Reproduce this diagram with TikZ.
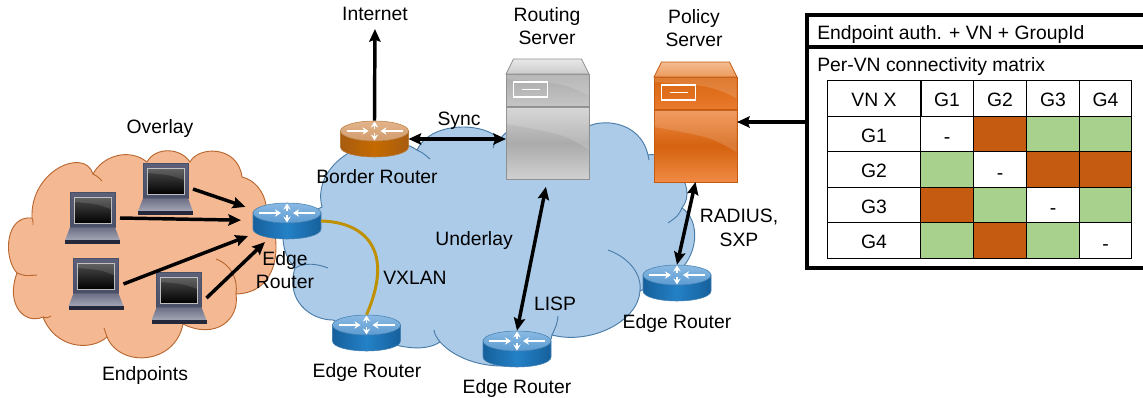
\documentclass[tikz,border=0pt]{standalone}
\usepackage{fontspec}
\setmainfont{Liberation Sans}
\usetikzlibrary{arrows.meta}
\definecolor{overlayfill}{HTML}{F4B993}
\definecolor{overlayline}{HTML}{B9672F}
\definecolor{underlayfill}{HTML}{ACCBE8}
\definecolor{underlayline}{HTML}{4A7CA8}
\definecolor{tunnel}{HTML}{BF9000}
\definecolor{denied}{HTML}{C55A11}
\definecolor{allowed}{HTML}{A9D18E}
% routers
\definecolor{rbA}{HTML}{16609C}
\definecolor{rbB}{HTML}{2481C6}
\definecolor{rbC}{HTML}{8ABAE3}
\definecolor{rbD}{HTML}{5C9BD2}
\definecolor{roA}{HTML}{A85C10}
\definecolor{roB}{HTML}{C46A00}
\definecolor{roC}{HTML}{E3B48C}
\definecolor{roD}{HTML}{D29C6C}
% servers
\definecolor{sgA}{HTML}{E8E8E8}
\definecolor{sgB}{HTML}{CBCBCB}
\definecolor{sgC}{HTML}{ABABAB}
\definecolor{sgD}{HTML}{C4C4C4}
\definecolor{sgE}{HTML}{D0D0D0}
\definecolor{sgF}{HTML}{ABABAB}
\definecolor{sgG}{HTML}{909090}
\definecolor{soA}{HTML}{F3BD90}
\definecolor{soB}{HTML}{EC9A5C}
\definecolor{soC}{HTML}{D9650F}
\definecolor{soD}{HTML}{E87A2C}
\definecolor{soE}{HTML}{F08A45}
\definecolor{soF}{HTML}{D4620F}
\definecolor{soG}{HTML}{C55A11}
% laptops
\definecolor{lapA}{HTML}{4A4F68}
\definecolor{lapB}{HTML}{5C6078}
\definecolor{lapC}{HTML}{6B6E84}
\definecolor{lapD}{HTML}{A5A7B5}
\definecolor{lapE}{HTML}{25283A}

\begin{document}
\begin{tikzpicture}[
  x=0.75pt, y=-0.75pt,
  lbl/.style={font=\fontsize{14.5}{17.8}\selectfont, align=center, inner sep=0pt},
  routerbox/.style={minimum width=51pt, minimum height=27.5pt, inner sep=0pt, outer sep=0pt},
  lapbox/.style={minimum width=41.25pt, minimum height=38.5pt, inner sep=0pt, outer sep=0pt},
  serverbox/.style={minimum width=62.25pt, minimum height=90pt, inner sep=0pt, outer sep=0pt},
  cell/.style={draw=black, line width=0.75pt, minimum width=39.5pt, minimum height=26.6pt,
    inner sep=0pt, outer sep=0pt, text height=12.5pt, text depth=0pt, font=\fontsize{14.5}{16}\selectfont},
  arrow/.style={-{Stealth[length=9.5pt, width=8.5pt, inset=1.5pt]}, line width=2.6pt},
  biarrow/.style={{Stealth[length=9.5pt, width=8.5pt, inset=1.5pt]}-{Stealth[length=9.5pt, width=8.5pt, inset=1.5pt]}, line width=2.6pt},
  routerarrow/.style={-{Stealth[length=4.5pt, width=5.5pt]}, white, line width=1pt},
  pics/router/.style n args={4}{code={
    \path[draw=#1!80!white, line width=0.4pt, left color=#1, right color=#1, middle color=#2]
      (-34,-8) -- (-34,8) .. controls (-34,14) and (-18,18) .. (0,18)
      .. controls (18,18) and (34,14) .. (34,8) -- (34,-8) -- cycle;
    \path[draw=#1!80!white, line width=0.4pt, top color=#3, bottom color=#4]
      (0,-8) ellipse [x radius=34, y radius=10];
    \draw[routerarrow] (-28,-8) -- (-6,-8);
    \draw[routerarrow] (28,-8) -- (6,-8);
    \draw[routerarrow] (0,-10) -- (0,-17.5);
    \draw[routerarrow] (0,-6) -- (0,1.5);
  }},
  pics/laptop/.style={code={
    \path[draw=lapA, line width=0.3pt, top color=lapB, bottom color=lapA]
      (-22.5,-25.7) rectangle (22.5,9.3);
    \path[draw=black!25, line width=0.7pt, top color=black!70, bottom color=black]
      (-18.5,-21) rectangle (18.5,5.5);
    \path[fill=white, fill opacity=0.12] (-18,-20.5) -- (18,-20.5) -- (18,-9) .. controls (5,-14) .. (-18,-16) -- cycle;
    \path[top color=lapC, bottom color=lapD]
      (-22.5,9.3) -- (22.5,9.3) -- (27.5,22.3) -- (-27.5,22.3) -- cycle;
    \path[fill=lapE] (-27.5,22.3) rectangle (27.5,25.7);
  }},
  pics/server/.style n args={7}{code={
    \path[draw=#7, line width=0.6pt, top color=#1, bottom color=#2]
      (-41.5,-45) -- (-34,-60) -- (34,-60) -- (41.5,-45) -- cycle;
    \path[draw=#7, line width=0.6pt, top color=#3, bottom color=#4]
      (-41.5,-45) rectangle (41.5,-13);
    \path[fill=white, fill opacity=0.15] (-41,-44.5) -- (41,-44.5) -- (41,-24) .. controls (15,-36) .. (-41,-40) -- cycle;
    \path[draw=#7, line width=0.6pt, top color=#5, bottom color=#5, middle color=#6]
      (-41.5,-12) rectangle (41.5,60);
    \path[fill=white, fill opacity=0.15] (-41,-11.5) -- (41,-11.5) -- (41,30) .. controls (15,15) .. (-41,5) -- cycle;
    \draw[white, line width=0.8pt] (-34,-37) rectangle (0,-22);
    \draw[white, line width=0.8pt] (-26,-29.5) -- (-8,-29.5);
  }}
]
\useasboundingbox (0,0) rectangle (1143,397);

% Overlay cloud
\draw[overlayline, fill=overlayfill, line width=0.7pt]
  (32,218) .. controls (30,170) and (85,147) .. (93,174)
  .. controls (103,155) and (130,148) .. (147,162)
  .. controls (155,147) and (180,147) .. (190,162)
  .. controls (198,146) and (238,145) .. (242,177)
  .. controls (255,180) and (264,192) .. (266,205)
  .. controls (285,245) and (278,293) .. (236,294)
  .. controls (240,320) and (215,340) .. (183,324)
  .. controls (175,365) and (120,368) .. (107,337)
  .. controls (90,352) and (55,348) .. (43,317)
  .. controls (25,325) and (5,305) .. (17,273)
  .. controls (3,258) and (5,215) .. (32,218) -- cycle;
\draw[overlayline, line width=0.7pt] (93,174) .. controls (97,176) .. (102,181);
\draw[overlayline, line width=0.7pt] (216,259) .. controls (232,265) and (238,280) .. (236,294);
\draw[overlayline, line width=0.7pt] (17,273) .. controls (25,276) .. (37,275);
\draw[overlayline, line width=0.7pt] (32,218) .. controls (33,220) .. (33,225);
\draw[overlayline, line width=0.7pt] (43,317) .. controls (47,318) .. (51,316);
\draw[overlayline, line width=0.7pt] (104,328) .. controls (105,332) .. (107,337);

% Underlay cloud
\draw[underlayline, fill=underlayfill, line width=0.7pt]
  (322,207) .. controls (310,160) and (380,125) .. (417,150)
  .. controls (430,122) and (480,122) .. (497,137)
  -- (500,140) .. controls (510,118) and (570,118) .. (585,128)
  .. controls (600,118) and (640,120) .. (648,155)
  .. controls (665,150) and (700,185) .. (682,208)
  .. controls (700,220) and (700,255) .. (675,275)
  -- (640,291) .. controls (638,322) and (590,345) .. (552,335)
  .. controls (545,375) and (470,375) .. (440,342)
  .. controls (425,352) and (395,352) .. (333,320)
  .. controls (310,320) and (285,300) .. (295,268)
  .. controls (285,258) and (280,240) .. (285,225) -- cycle;
\draw[underlayline, line width=0.7pt] (417,150) .. controls (423,153) .. (430,159);
\draw[underlayline, line width=0.7pt] (493,148) .. controls (495,142) .. (500,140);
\draw[underlayline, line width=0.7pt] (648,155) .. controls (649,157) .. (649,160);
\draw[underlayline, line width=0.7pt] (682,208) .. controls (678,216) .. (668,223);
\draw[underlayline, line width=0.7pt] (608,250) .. controls (630,258) and (642,275) .. (640,291);
\draw[underlayline, line width=0.7pt] (558,316) .. controls (557,324) .. (552,335);
\draw[underlayline, line width=0.7pt] (434,330) .. controls (435,335) .. (440,342);
\draw[underlayline, line width=0.7pt] (295,268) .. controls (305,262) and (318,264) .. (328,268);

% Servers
\node[serverbox] (s_routing) at (547.5,119) {};
\pic at (s_routing) {server={sgA}{sgB}{sgC}{sgD}{sgE}{sgF}{sgG}};
\node[serverbox] (s_policy) at (695.5,122) {};
\pic at (s_policy) {server={soA}{soB}{soC}{soD}{soE}{soF}{soG}};

% Routers
\node[routerbox] (r_border) at (374.5,139) {};
\pic at (r_border) {router={roA}{roB}{roC}{roD}};
\node[routerbox] (r_edge1) at (287,221) {};
\node[routerbox] (r_edge2) at (366.5,333) {};
\node[routerbox] (r_edge3) at (517,349) {};
\node[routerbox] (r_edge4) at (677,283) {};
\foreach \r in {r_edge1,r_edge2,r_edge3,r_edge4}
  \pic at (\r) {router={rbA}{rbB}{rbC}{rbD}};

% Endpoints
\node[lapbox] (lap_a) at (165.5,189) {};
\node[lapbox] (lap_b) at (92.5,218) {};
\node[lapbox] (lap_c) at (96,284) {};
\node[lapbox] (lap_d) at (179,298) {};
\foreach \l in {lap_a,lap_b,lap_c,lap_d}
  \pic at (\l) {laptop};

% Policy panel
\node[minimum width=252pt, minimum height=189.75pt, inner sep=0pt, outer sep=0pt] (panel) at (975,141.5) {};
\coordinate (panel_port) at (807,122);
\draw[line width=2.6pt] (1143,15) -- (807,15) -- (807,268) -- (1143,268);
\draw[line width=2.6pt] (807,47) -- (1143,47);
\node[lbl, anchor=west] (lbl_auth) at (817,34) {Endpoint auth. + VN + GroupId};
\node[lbl, anchor=west] (lbl_matrix) at (817,66) {Per-VN connectivity matrix};

% Connectivity matrix
\node[cell, minimum width=70.5pt] (cell-0-0) at (874,98.5) {VN X};
\foreach \i/\yc in {1/134,2/169.5,3/205,4/240.5}
  \node[cell, minimum width=70.5pt] (cell-\i-0) at (874,\yc) {G\i};
\foreach \j/\xc in {1/947,2/1000,3/1053,4/1105.5}
  \node[cell] (cell-0-\j) at (\xc,98.5) {G\j};
\foreach \i/\yc/\ka/\kb/\kc/\kd in {1/134/white/denied/allowed/allowed,
    2/169.5/allowed/white/denied/denied,
    3/205/denied/allowed/white/allowed,
    4/240.5/allowed/denied/allowed/white}
  \foreach \j/\xc/\k in {1/947/\ka,2/1000/\kb,3/1053/\kc,4/1105.5/\kd}
    \node[cell, fill=\k] (cell-\i-\j) at (\xc,\yc) {};
\foreach \i in {1,...,4}
  \node[lbl, yshift=-5pt] (dash-\i) at (cell-\i-\i) {-};

% Labels
\node[lbl] (lbl_internet) at (375,14) {Internet};
\node[lbl] (lbl_routing) at (547,26) {Routing\\Server};
\node[lbl] (lbl_policy) at (694,28) {Policy\\Server};
\node[lbl] (lbl_overlay) at (160,128) {Overlay};
\node[lbl] (lbl_endpoints) at (145,375) {Endpoints};
\node[lbl] (lbl_border) at (377,177) {Border Router};
\node[lbl] (lbl_edge1) at (285,270) {Edge\\Router};
\node[lbl] (lbl_edge2) at (367,372) {Edge Router};
\node[lbl] (lbl_edge3) at (517,388) {Edge Router};
\node[lbl] (lbl_edge4) at (677,323) {Edge Router};
\node[lbl] (lbl_sync) at (459,121) {Sync};
\node[lbl] (lbl_underlay) at (474,240) {Underlay};
\node[lbl] (lbl_vxlan) at (415,278) {VXLAN};
\node[lbl] (lbl_lisp) at (555,304) {LISP};
\node[lbl] (lbl_radius) at (739,228) {RADIUS,\\SXP};

% Connectors
\draw[arrow, shorten >=6pt] (lap_a.east) -- (r_edge1);
\draw[arrow, shorten >=9pt] (lap_b.east) -- (r_edge1);
\draw[arrow, shorten >=4pt] (lap_c.east) -- (r_edge1);
\draw[arrow, shorten >=3pt] (lap_d.east) -- (r_edge1);
\draw[arrow, shorten >=6pt] (r_border.north) -- (lbl_internet.south);
\draw[biarrow] (r_border.east) -- (r_border.east -| s_routing.west);
\draw[biarrow, shorten <=6pt] (s_routing.south) -- (r_edge3.north);
\draw[biarrow] (s_policy.south) -- (r_edge4.north);
\draw[arrow] (panel_port) -- (s_policy.east |- panel_port);
\draw[tunnel, line width=2.2pt] (r_edge1.east) .. controls (365,222) and (395,250) .. (r_edge2.north);
\end{tikzpicture}
\end{document}
